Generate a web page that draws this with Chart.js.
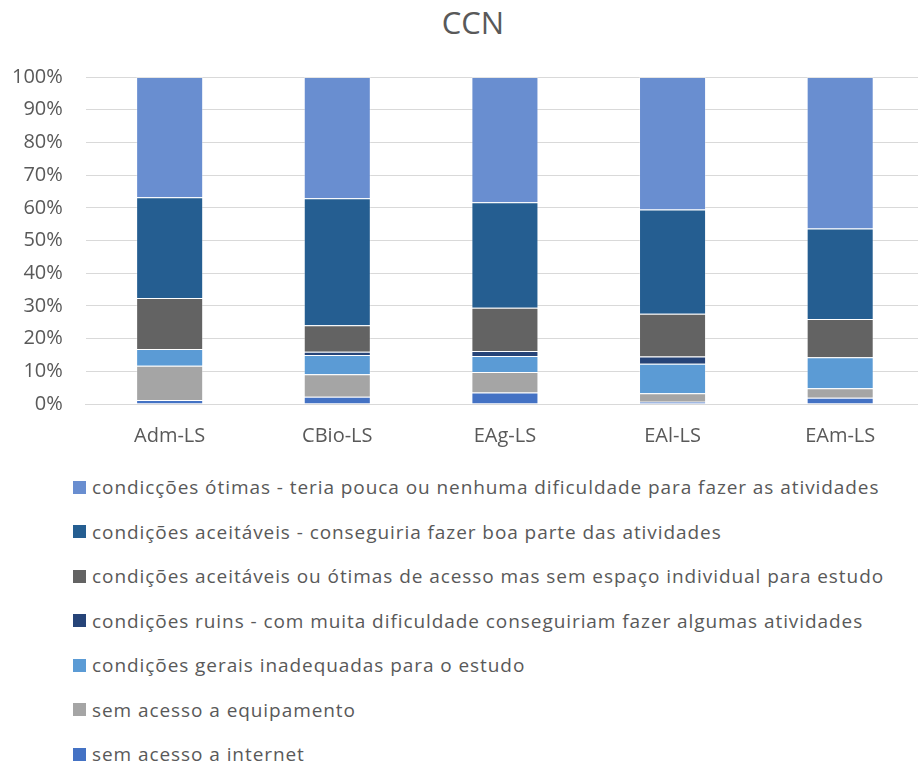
<!DOCTYPE html>
<html>
<head>
<meta charset="utf-8">
<script src="https://cdn.jsdelivr.net/npm/chart.js@4.4.1/dist/chart.umd.min.js"></script>
<style>
    html, body { margin: 0; padding: 0; background: #fff; overflow: hidden; }
    body { width: 918px; height: 769px; position: relative; font-family: "Open Sans", sans-serif; }
    #title { position: absolute; left: 0; top: 6.5px; width: 946px; text-align: center; font-size: 31px; line-height: 31px; color: #595959; }
    #wrap { position: absolute; left: -11px; top: 0; width: 937px; height: 460px; }
    #legend { position: absolute; left: 73px; top: 465px; }
    .lg-item { height: 44.5px; display: flex; align-items: center; color: #595959; font-size: 19px; letter-spacing: 0.93px; white-space: nowrap; }
    .lg-box { width: 13px; height: 13px; margin-right: 6px; display: inline-block; }
</style>
</head>
<body>
<div id="title">CCN</div>
<div id="wrap"><canvas id="ccnChart"></canvas></div>
<div id="legend"></div>
<script>
// categories
const courses = ['Adm-LS', 'CBio-LS', 'EAg-LS', 'EAl-LS', 'EAm-LS'];

// series values (percent of each course), bottom of the stack first
const semInternet     = [1.2, 2.2, 3.5, 0.7, 1.9];
const semEquipamento  = [10.5, 6.9, 6.3, 2.6, 2.9];
const inadequadas     = [5.1, 5.9, 4.9, 9.0, 9.5];
const ruins           = [0.0, 1.0, 1.5, 2.2, 0.0];
const semEspaco       = [15.6, 8.1, 13.2, 13.1, 11.7];
const aceitaveis      = [30.8, 38.8, 32.3, 31.9, 27.7];
const otimas          = [36.8, 37.1, 38.3, 40.5, 46.3];

const yTicks = [0, 10, 20, 30, 40, 50, 60, 70, 80, 90, 100];

const seriesNames = [
    'sem acesso a internet',
    'sem acesso a equipamento',
    'condições gerais inadequadas para o estudo',
    'condições ruins - com muita dificuldade conseguiriam fazer algumas atividades',
    'condições aceitáveis ou ótimas de acesso mas sem espaço individual para estudo',
    'condições aceitáveis - conseguiria fazer boa parte das atividades',
    'condicções ótimas - teria pouca ou nenhuma dificuldade para fazer as atividades'
];
const seriesValues = [semInternet, semEquipamento, inadequadas, ruins, semEspaco, aceitaveis, otimas];
const seriesColors = ['#4472C4', '#A5A5A5', '#5B9BD5', '#264478', '#636363', '#255E91', '#698ED0'];

const grey = '#595959';

const chart = new Chart(document.getElementById('ccnChart'), {
    type: 'bar',
    data: {
        labels: courses,
        datasets: seriesNames.map((name, i) => ({
            label: name,
            data: seriesValues[i],
            backgroundColor: seriesColors[i],
            borderColor: 'rgba(255,255,255,0.3)',
            borderWidth: 1,
            barPercentage: 0.4,
            categoryPercentage: 1.0
        }))
    },
    options: {
        responsive: true,
        maintainAspectRatio: false,
        animation: false,
        // title is an html div above, so keep room for it here
        layout: { padding: { left: 0, right: 2, top: 77, bottom: 0 } },
        plugins: {
            legend: { display: false },
            tooltip: { enabled: false },
            title: { display: false }
        },
        scales: {
            x: {
                stacked: true,
                grid: { display: false },
                border: { display: true, color: '#d9d9d9', width: 1 },
                ticks: { color: grey, font: { family: 'Open Sans', size: 20 }, padding: 12 }
            },
            y: {
                stacked: true,
                min: 0,
                max: 100,
                afterBuildTicks: axis => { axis.ticks = yTicks.map(v => ({ value: v })); },
                grid: { color: '#d9d9d9', lineWidth: 1, drawTicks: false },
                border: { display: false },
                ticks: {
                    color: grey,
                    font: { family: 'Open Sans', size: 20 },
                    padding: 23,
                    callback: v => v + '%'
                }
            }
        }
    }
});

// HTML legend, top of stack first, one entry per line
const legendEl = document.getElementById('legend');
chart.data.datasets.slice().reverse().forEach(ds => {
    const item = document.createElement('div');
    item.className = 'lg-item';
    item.innerHTML = '<span class="lg-box" style="background:' + ds.backgroundColor + '"></span>' + ds.label;
    legendEl.appendChild(item);
});
</script>
</body>
</html>
